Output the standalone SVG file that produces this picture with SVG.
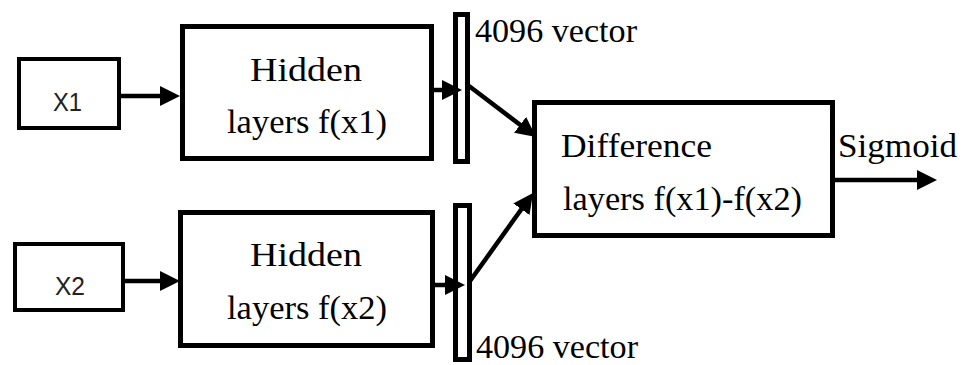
<svg xmlns="http://www.w3.org/2000/svg" width="968" height="365" viewBox="0 0 968 365">
  <style>
    .box { fill: #ffffff; stroke: #000000; stroke-width: 5; }
    .inbox { fill: #ffffff; stroke: #000000; stroke-width: 4; }
    .bar { fill: #ffffff; stroke: #000000; stroke-width: 5; }
    .serif { font-family: "Liberation Serif", "Times New Roman", serif; font-size: 33px; fill: #000000; }
    .sans { font-family: "Liberation Sans", Arial, sans-serif; font-size: 25px; fill: #222222; }
    .link { stroke: #000000; stroke-width: 4.5; fill: none; marker-end: url(#head); }
  </style>
  <defs>
    <marker id="head" viewBox="0 0 20 20" refX="4" refY="10" markerWidth="20" markerHeight="20" markerUnits="userSpaceOnUse" orient="auto">
      <path d="M0,0 L20,10 L0,20 Z" fill="#000000"/>
    </marker>
  </defs>

  <rect width="968" height="365" fill="#ffffff"/>

  <!-- inputs -->
  <g id="x1">
    <rect class="inbox" x="19" y="59" width="100" height="69"/>
    <text class="sans" x="53" y="111" textLength="29" lengthAdjust="spacingAndGlyphs">X1</text>
  </g>
  <g id="x2">
    <rect class="inbox" x="15" y="244" width="108" height="66"/>
    <text class="sans" x="55" y="295" textLength="30" lengthAdjust="spacingAndGlyphs">X2</text>
  </g>

  <!-- hidden branches -->
  <g id="hidden1">
    <rect class="box" x="182.5" y="26.5" width="249" height="132"/>
    <text class="serif" x="250" y="81" textLength="112" lengthAdjust="spacingAndGlyphs">Hidden</text>
    <text class="serif" x="227" y="133" textLength="160" lengthAdjust="spacingAndGlyphs">layers f(x1)</text>
  </g>
  <g id="hidden2">
    <rect class="box" x="180.5" y="212.5" width="252" height="133"/>
    <text class="serif" x="250" y="266" textLength="112" lengthAdjust="spacingAndGlyphs">Hidden</text>
    <text class="serif" x="227" y="319" textLength="160" lengthAdjust="spacingAndGlyphs">layers f(x2)</text>
  </g>

  <!-- feature vectors -->
  <g id="vector1">
    <rect class="bar" x="455.5" y="14.5" width="12" height="147"/>
    <text class="serif" x="475" y="42" textLength="162" lengthAdjust="spacingAndGlyphs">4096 vector</text>
  </g>
  <g id="vector2">
    <rect class="bar" x="455.5" y="205.5" width="14" height="154"/>
    <text class="serif" x="476" y="358" textLength="162" lengthAdjust="spacingAndGlyphs">4096 vector</text>
  </g>

  <!-- difference -->
  <g id="difference">
    <rect class="box" x="534.5" y="102.5" width="298" height="133"/>
    <text class="serif" x="561" y="157" textLength="151" lengthAdjust="spacingAndGlyphs">Difference</text>
    <text class="serif" x="563" y="210" textLength="239" lengthAdjust="spacingAndGlyphs">layers f(x1)-f(x2)</text>
  </g>

  <!-- output label -->
  <g id="sigmoid">
    <text class="serif" x="838" y="157" textLength="119" lengthAdjust="spacingAndGlyphs">Sigmoid</text>
  </g>

  <!-- connectors -->
  <g id="connectors">
    <line class="link" x1="121" y1="96" x2="164" y2="96"/>
    <line class="link" x1="125" y1="281" x2="164" y2="281"/>
    <line class="link" x1="433" y1="90" x2="446" y2="90"/>
    <line class="link" x1="435" y1="285" x2="449" y2="285"/>
    <line class="link" x1="469" y1="86" x2="523.3" y2="127.3"/>
    <line class="link" x1="470" y1="281" x2="523.7" y2="206"/>
    <line class="link" x1="835" y1="180" x2="921" y2="180"/>
  </g>
</svg>
